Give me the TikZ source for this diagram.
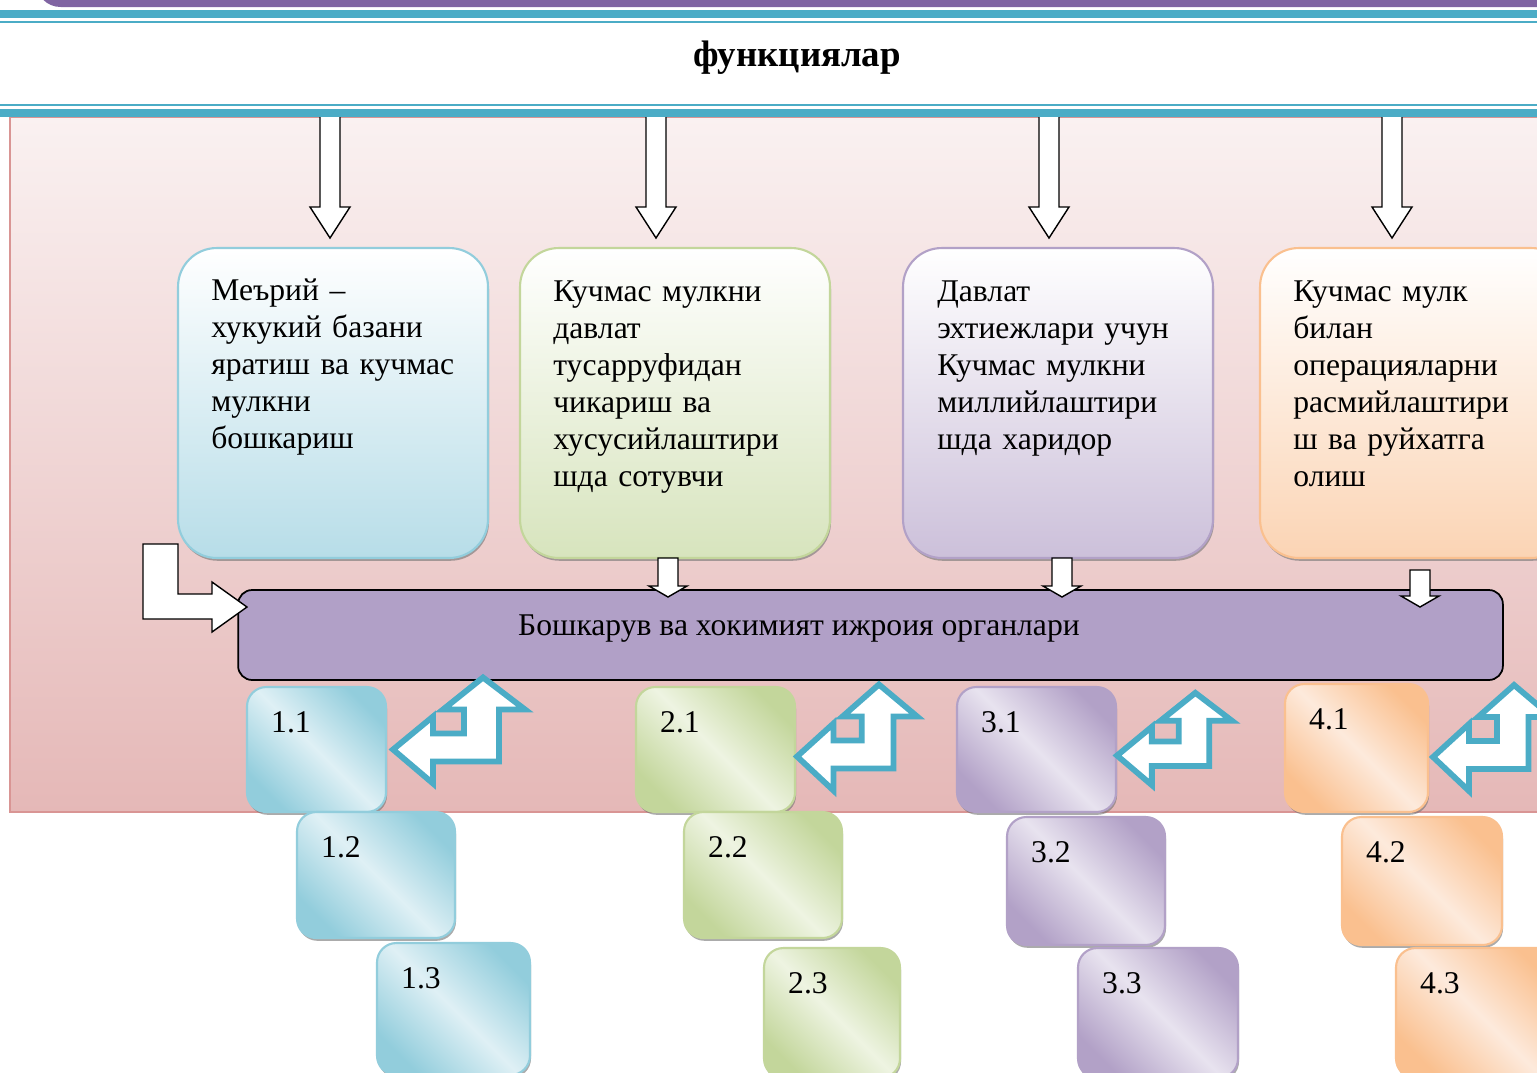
\documentclass[tikz,border=0pt]{standalone}
\usepackage{fontspec}
\setmainfont{Liberation Serif}
\usepackage{tikz}
\usetikzlibrary{shadows}
\definecolor{bluefill}{HTML}{B7DDE8}
\definecolor{blueedge}{HTML}{92CDDC}
\definecolor{bluelight}{HTML}{DFF0F5}
\definecolor{greenfill}{HTML}{D7E4BD}
\definecolor{greenedge}{HTML}{C3D69B}
\definecolor{greenlight}{HTML}{EEF4E2}
\definecolor{purplefill}{HTML}{CCC0DA}
\definecolor{purpleedge}{HTML}{B2A1C7}
\definecolor{purplelight}{HTML}{E8E3EF}
\definecolor{orangefill}{HTML}{FBD4B4}
\definecolor{orangeedge}{HTML}{FAC08F}
\definecolor{orangelight}{HTML}{FDEADC}
\definecolor{barfill}{HTML}{B1A0C7}
\definecolor{headteal}{HTML}{4BACC6}
\definecolor{headpurple}{HTML}{8064A2}
\definecolor{pinktop}{HTML}{FAF1F1}
\definecolor{pinkbot}{HTML}{E5B8B7}
\definecolor{pinkline}{HTML}{D99594}
\newcommand{\boxfont}{\fontsize{18}{21}\selectfont}
\newcommand{\blockdown}[5]{%
  \draw[blockarr] (#1-10,#2) -- (#1+10,#2) -- (#1+10,#3-#4) -- (#1+#5,#3-#4) -- (#1,#3) -- (#1-#5,#3-#4) -- (#1-10,#3-#4) -- cycle;}
\tikzset{
  bigbox/.style={draw=#1edge,line width=1.2pt,rounded corners=22pt,top color=white,bottom color=#1fill,
    minimum width=6.2cm,minimum height=6.2cm,drop shadow={shadow xshift=0.6pt,shadow yshift=-1.6pt,fill=black!55,opacity=.6}},
  boxtext/.style={anchor=base west,inner sep=0pt,text width=5.8cm,align=left,font=\boxfont},
  smallbox/.style={draw=#1edge,line width=1.2pt,rounded corners=11pt,left color=#1edge,right color=#1edge,
    middle color=#1light,shading angle=135,drop shadow={shadow xshift=0.6pt,shadow yshift=-1.6pt,fill=black!55,opacity=.6}},
  numtext/.style={inner sep=0pt,font=\boxfont},
  blockarr/.style={draw=black,line width=0.8pt,fill=white,line join=miter},
  turnline/.style={draw=headteal,line width=3.3pt,fill=white,line join=miter},
  turnarrow/.pic={
    \draw[turnline] (0,0) -- (40,-33) -- (40,-16) -- (71,-16) -- (71,-40) -- (50,-40) -- (90,-72) -- (132,-40)
      -- (106,-40) -- (106,12) -- (40,12) -- (40,34) -- cycle;}
}

\begin{document}
\begin{tikzpicture}[x=0.02cm,y=-0.02cm]
	\useasboundingbox (0,0) rectangle (1537,1072);
	\clip (0,0) rectangle (1537,1072);
	\fill[white] (0,0) rectangle (1537,1072);
	\shade[top color=pinktop,bottom color=pinkbot,draw=pinkline,line width=1pt] (10,117) rectangle (1600,812);
	\blockdown{330}{110}{238}{31}{20}
	\blockdown{656}{110}{238}{31}{20}
	\blockdown{1049}{110}{238}{31}{20}
	\blockdown{1392}{110}{238}{31}{20}
	\fill[headpurple,rounded corners=14pt] (36,-40) rectangle (1600,7);
	\fill[headteal] (0,10) rectangle (1537,18);
	\fill[headteal] (0,21) rectangle (1537,23);
	\fill[white] (0,24) rectangle (1537,103);
	\fill[headteal] (0,104) rectangle (1537,106);
	\fill[headteal] (0,109) rectangle (1537,117);
	\node[anchor=base,inner sep=0pt,font=\fontsize{21}{25}\selectfont\bfseries] (title) at (797,66) {функциялар};

	\node[bigbox=blue] (b1) at (333,403) {};
	\node[bigbox=green] (b2) at (675,403) {};
	\node[bigbox=purple] (b3) at (1058,403) {};
	\node[bigbox=orange] (b4) at (1415,403) {};
	\node[boxtext] (t1) at ([shift={(34,54)}]b1.north west) {Меърий –\\хукукий базани\\яратиш ва кучмас\\мулкни\\бошкариш};
	\node[boxtext] (t2) at ([shift={(34,55)}]b2.north west) {Кучмас мулкни\\давлат\\тусарруфидан\\чикариш ва\\хусусийлаштири\\шда сотувчи};
	\node[boxtext] (t3) at ([shift={(35,55)}]b3.north west) {Давлат\\эхтиежлари учун\\Кучмас мулкни\\миллийлаштири\\шда харидор};
	\node[boxtext] (t4) at ([shift={(34,55)}]b4.north west) {Кучмас мулк\\билан\\операцияларни\\расмийлаштири\\ш ва руйхатга\\олиш};

	\node[draw=black,line width=1pt,fill=barfill,rounded corners=8pt,minimum width=25.3cm,minimum height=1.8cm] (bar) at (870.5,635) {};
	\node[anchor=base,inner sep=0pt,font=\boxfont] (bartxt) at (799,635) {Бошкарув ва хокимият ижроия органлари};
	\blockdown{668}{558}{597}{11}{19}
	\blockdown{1062}{558}{597}{11}{19}
	\blockdown{1420}{570}{607}{11}{19}
	\draw[blockarr] (143,544) -- (178,544) -- (178,594) -- (212,594) -- (212,582) -- (247,607) -- (212,632) -- (212,619) -- (143,619) -- cycle;

	\node[smallbox=blue,minimum width=2.78cm,minimum height=2.5cm] (s11) at (316.5,749.5) {};
	\node[smallbox=blue,minimum width=3.16cm,minimum height=2.52cm] (s12) at (376,875) {};
	\node[smallbox=blue,minimum width=3.06cm,minimum height=2.64cm] (s13) at (453.5,1009) {};
	\node[smallbox=green,minimum width=3.18cm,minimum height=2.5cm] (s21) at (715.5,749.5) {};
	\node[smallbox=green,minimum width=3.16cm,minimum height=2.52cm] (s22) at (763,875) {};
	\node[smallbox=green,minimum width=2.72cm,minimum height=2.6cm] (s23) at (832,1013) {};
	\node[smallbox=purple,minimum width=3.18cm,minimum height=2.5cm] (s31) at (1036.5,749.5) {};
	\node[smallbox=purple,minimum width=3.16cm,minimum height=2.56cm] (s32) at (1086,881) {};
	\node[smallbox=purple,minimum width=3.2cm,minimum height=2.6cm] (s33) at (1158,1013) {};
	\node[smallbox=orange,minimum width=2.86cm,minimum height=2.56cm] (s41) at (1356.5,748) {};
	\node[smallbox=orange,minimum width=3.2cm,minimum height=2.56cm] (s42) at (1422,881) {};
	\node[smallbox=orange,minimum width=3.28cm,minimum height=2.6cm] (s43) at (1478,1013) {};
	\foreach \n in {11,12,13,21,22,23,31,32,33,41,42,43}
		\node[numtext] (n\n) at ([shift={(45,36)}]s\n.north west) {\pgfmathparse{int(\n/10)}\pgfmathresult.\pgfmathparse{int(mod(\n,10))}\pgfmathresult};

	\pic at ([shift={(6,0)}]s11.east) {turnarrow};
	\pic[xscale=0.91] at ([shift={(1,7)}]s21.east) {turnarrow};
	\pic[scale=0.87] at ([shift={(0,6)}]s31.east) {turnarrow};
	\pic[xscale=0.9] at ([shift={(4,9)}]s41.east) {turnarrow};
\end{tikzpicture}
\end{document}
